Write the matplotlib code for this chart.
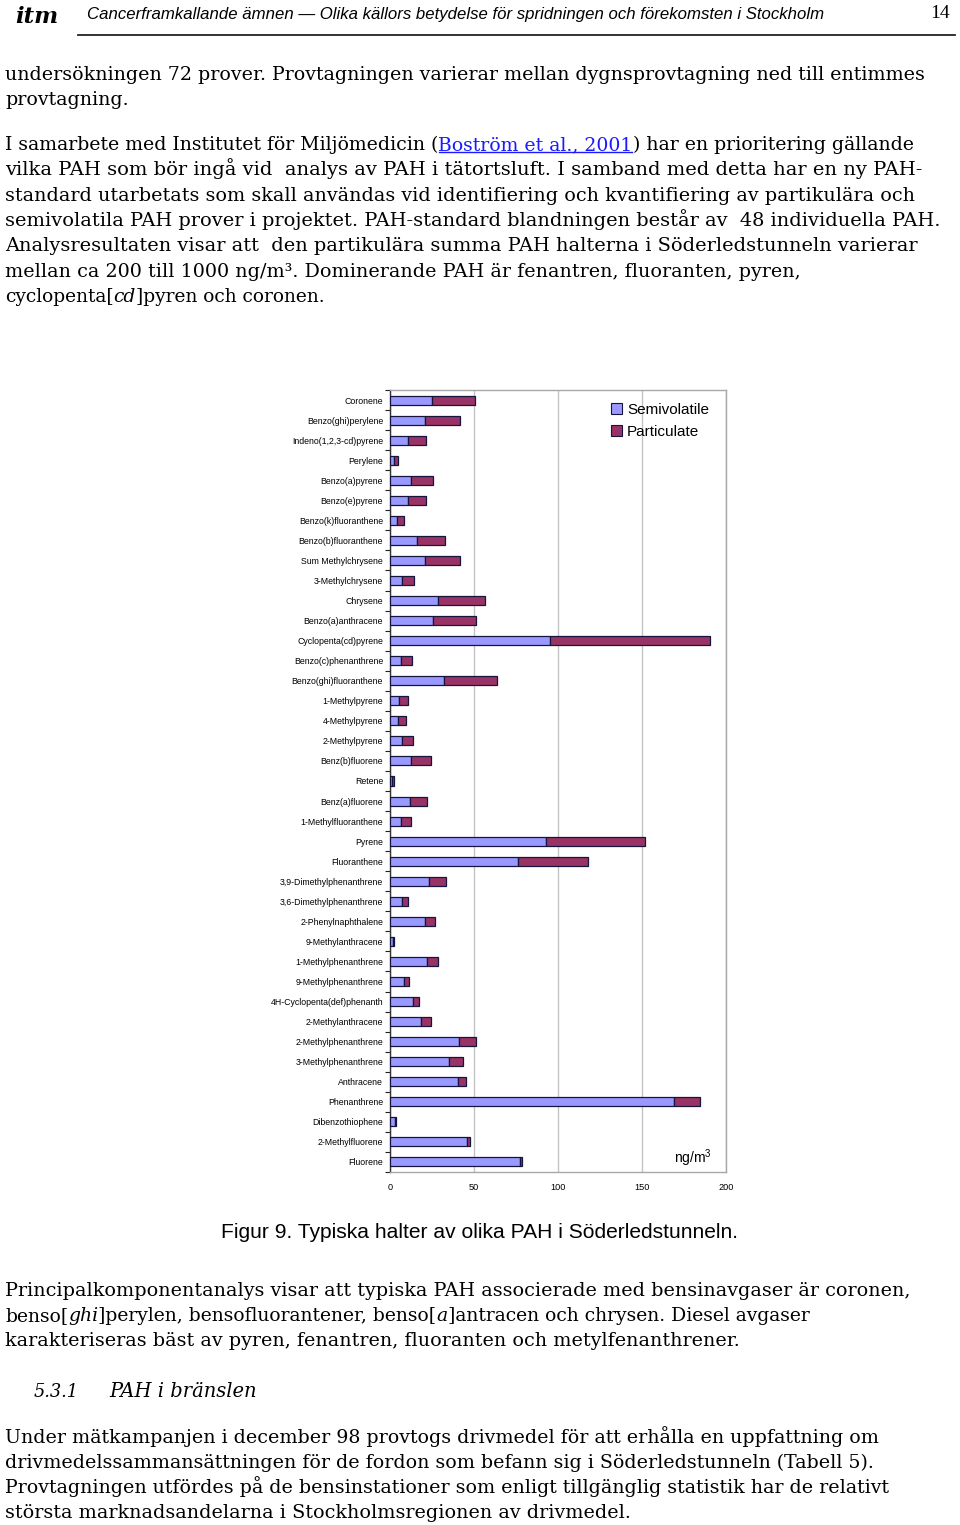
import matplotlib
matplotlib.use("Agg")
import matplotlib.pyplot as plt
from matplotlib.patches import Patch
from matplotlib.lines import Line2D
import numpy as np

# ---------------- data ----------------
categories = [
    "Coronene", "Benzo(ghi)perylene", "Indeno(1,2,3-cd)pyrene", "Perylene",
    "Benzo(a)pyrene", "Benzo(e)pyrene", "Benzo(k)fluoranthene",
    "Benzo(b)fluoranthene", "Sum Methylchrysene", "3-Methylchrysene",
    "Chrysene", "Benzo(a)anthracene", "Cyclopenta(cd)pyrene",
    "Benzo(c)phenanthrene", "Benzo(ghi)fluoranthene", "1-Methylpyrene",
    "4-Methylpyrene", "2-Methylpyrene", "Benz(b)fluorene", "Retene",
    "Benz(a)fluorene", "1-Methylfluoranthene", "Pyrene", "Fluoranthene",
    "3,9-Dimethylphenanthrene", "3,6-Dimethylphenanthrene",
    "2-Phenylnaphthalene", "9-Methylanthracene", "1-Methylphenanthrene",
    "9-Methylphenanthrene", "4H-Cyclopenta(def)phenanth",
    "2-Methylanthracene", "2-Methylphenanthrene", "3-Methylphenanthrene",
    "Anthracene", "Phenanthrene", "Dibenzothiophene", "2-Methylfluorene",
    "Fluorene",
]
semivolatile = [
    25.2, 20.8, 10.5, 2.2, 12.5, 10.5, 4.0, 16.3, 20.8, 7.0,
    28.4, 25.6, 95.4, 6.7, 32.0, 5.4, 4.8, 7.1, 12.7, 1.0,
    11.7, 6.5, 93.0, 76.4, 23.2, 7.3, 20.6, 2.0, 21.8, 8.5,
    13.9, 18.5, 40.9, 35.3, 40.5, 169.0, 2.8, 46.0, 77.2,
]
particulate = [
    25.2, 21.1, 10.7, 2.4, 12.9, 11.1, 4.5, 16.6, 21.1, 7.1,
    28.3, 25.6, 95.3, 6.6, 31.9, 5.1, 4.9, 6.4, 11.5, 1.2,
    10.5, 5.8, 58.8, 41.3, 9.9, 3.2, 6.0, 0.4, 6.6, 2.6,
    3.2, 5.7, 10.1, 8.2, 4.5, 15.7, 0.5, 1.6, 1.6,
]
series_names = ["Semivolatile", "Particulate"]
x_ticks = [0, 50, 100, 150, 200]
unit_label = "ng/m$^3$"
caption = "Figur 9. Typiska halter av olika PAH i Söderledstunneln."
header_title = ("Cancerframkallande ämnen \u2014 Olika källors betydelse för "
                "spridningen och förekomsten i Stockholm")
page_number = "14"

# ---------------- figure ----------------
plt.rcParams["mathtext.fontset"] = "custom"
plt.rcParams["mathtext.rm"] = "Liberation Sans"
plt.rcParams["mathtext.it"] = "Liberation Sans:italic"

W, H = 960, 1525
fig = plt.figure(figsize=(W / 100, H / 100), dpi=100)
fig.patch.set_facecolor("white")
renderer = fig.canvas.get_renderer()


def fx(x):
    return x / W


def fy(y):
    return 1 - y / H


def raw_w(txt, family, size, style, weight):
    t = fig.text(0, 0, txt, family=family, fontsize=size,
                 style=style, weight=weight)
    ww = t.get_window_extent(renderer).width
    t.remove()
    return ww


def seg_width(s, family, size, style, weight):
    return (raw_w("x" + s + "x", family, size, style, weight)
            - raw_w("xx", family, size, style, weight))


def line_widths(segs, family, size):
    return [seg_width(s, family, size, o.get("style", "normal"),
                      o.get("weight", "normal")) for s, o in segs]


def draw_line(segs, x0, base, target_w, family="DejaVu Serif", size0=12.0,
              color="black"):
    """segs: list of (text, opts) where opts may contain style/color/underline."""
    size = size0
    for _ in range(4):
        total = sum(line_widths(segs, family, size))
        size = size * target_w / total
    widths = line_widths(segs, family, size)
    x = x0
    for (s, o), wv in zip(segs, widths):
        fig.text(fx(x), fy(base), s, family=family, fontsize=size,
                 style=o.get("style", "normal"), weight=o.get("weight", "normal"),
                 color=o.get("color", color), va="baseline", ha="left")
        if o.get("underline"):
            fig.add_artist(Line2D([fx(x + 1), fx(x + wv - 1)],
                                  [fy(base + 2.2), fy(base + 2.2)],
                                  color=o.get("color", color), lw=1.0))
        x += wv


N = {}
IT = {"style": "italic"}
LINK = {"color": "#1a1aff", "underline": True}

# ---------------- header ----------------
draw_line([("itm", {"style": "italic", "weight": "bold"})], 15, 23, 43,
          family="DejaVu Serif")
draw_line([(header_title, IT)], 87, 19, 737, family="Liberation Sans")
fig.text(fx(930), fy(18), page_number, family="Liberation Serif",
         fontsize=14, va="baseline", ha="left")
fig.add_artist(Line2D([fx(78), fx(955)], [fy(35), fy(35)], color="#222222",
                      lw=1.3))

# ---------------- body text (top) ----------------
top_lines = [
    (80, 924, [("undersökningen 72 prover. Provtagningen varierar mellan "
                "dygnsprovtagning ned till entimmes", N)]),
    (105, 123, [("provtagning.", N)]),
    (150, 918, [("I samarbete med Institutet för Miljömedicin (", N),
                ("Boström et al., 2001", LINK),
                (") har en prioritering gällande", N)]),
    (175, 916, [("vilka PAH som bör ingå vid  analys av PAH i tätortsluft. "
                 "I samband med detta har en ny PAH-", N)]),
    (201, 910, [("standard utarbetats som skall användas vid identifiering "
                 "och kvantifiering av partikulära och", N)]),
    (226, 936, [("semivolatila PAH prover i projektet. PAH-standard "
                 "blandningen består av  48 individuella PAH.", N)]),
    (251, 913, [("Analysresultaten visar att  den partikulära summa PAH "
                 "halterna i Söderledstunneln varierar", N)]),
    (277, 794, [("mellan ca 200 till 1000 ng/m³. Dominerande PAH är "
                 "fenantren, fluoranten, pyren,", N)]),
    (302, 319, [("cyclopenta[", N), ("cd", IT), ("]pyren och coronen.", N)]),
]
for base, tw, segs in top_lines:
    draw_line(segs, 5, base, tw)

# ---------------- chart ----------------
ax = fig.add_axes([fx(390), fy(1172), (726 - 390) / W, (1172 - 390) / H])
ypos = np.arange(len(categories))
semi = np.array(semivolatile)
part = np.array(particulate)
edge = "#14143c"
ax.barh(ypos, semi, height=0.45, color="#9999FF", edgecolor=edge, lw=0.9,
        label=series_names[0], zorder=3)
ax.barh(ypos, part, left=semi, height=0.45, color="#993366", edgecolor=edge,
        lw=0.9, label=series_names[1], zorder=3)
ax.set_xlim(x_ticks[0], x_ticks[-1])
ax.set_ylim(len(categories) - 0.5, -0.5)
ax.set_xticks(x_ticks)
ax.set_xticklabels([str(v) for v in x_ticks], family="Liberation Sans",
                   fontsize=6.6)
ax.set_yticks(ypos)
ax.set_yticklabels(categories, family="Liberation Sans", fontsize=6.3)
ax.set_yticks(np.arange(len(categories) + 1) - 0.5, minor=True)
ax.tick_params(axis="y", which="major", length=0, pad=5)
ax.tick_params(axis="y", which="minor", length=3.5, width=0.8,
               direction="out", color="#222222")
ax.tick_params(axis="x", length=0, pad=8)
ax.grid(axis="x", color="#c4c4c4", lw=1.0, zorder=0)
ax.set_axisbelow(True)
for side in ["top", "right", "bottom"]:
    ax.spines[side].set_color("#a8a8a8")
    ax.spines[side].set_linewidth(1.0)
ax.spines["left"].set_color("#333333")
ax.spines["left"].set_linewidth(1.0)

handles = [Patch(facecolor="#9999FF", edgecolor=edge, lw=0.8),
           Patch(facecolor="#993366", edgecolor=edge, lw=0.8)]
leg = ax.legend(handles, series_names, loc="upper left",
                bbox_to_anchor=(fx(611), fy(403)),
                bbox_transform=fig.transFigure, frameon=False,
                prop={"family": "Liberation Sans", "size": 11},
                handlelength=0.75, handleheight=0.75, handletextpad=0.3,
                labelspacing=0.5, borderpad=0.0, borderaxespad=0.0)

fig.text(fx(674), fy(1158), unit_label, family="Liberation Sans",
         fontsize=10, va="center", ha="left")

draw_line([(caption, N)], 221, 1238, 518, family="Liberation Sans")

# ---------------- body text (bottom) ----------------
bottom_lines = [
    (1296, 904, [("Principalkomponentanalys visar att typiska PAH associerade "
                  "med bensinavgaser är coronen,", N)]),
    (1321, 814, [("benso[", N), ("ghi", IT),
                 ("]perylen, bensofluorantener, benso[", N), ("a", IT),
                 ("]antracen och chrysen. Diesel avgaser", N)]),
    (1346, 734, [("karakteriseras bäst av pyren, fenantren, fluoranten och "
                  "metylfenanthrener.", N)]),
    (1443, 872, [("Under mätkampanjen i december 98 provtogs drivmedel för att "
                  "erhålla en uppfattning om", N)]),
    (1468, 866, [("drivmedelssammansättningen för de fordon som befann sig i "
                  "Söderledstunneln (Tabell 5).", N)]),
    (1493, 889, [("Provtagningen utfördes på de bensinstationer som enligt "
                  "tillgänglig statistik har de relativt", N)]),
    (1518, 622, [("största marknadsandelarna i Stockholmsregionen av "
                  "drivmedel.", N)]),
]
for base, tw, segs in bottom_lines:
    draw_line(segs, 5, base, tw)

draw_line([("5.3.1", IT)], 34, 1397, 45)
draw_line([("PAH i bränslen", IT)], 109, 1397, 148)

fig.savefig("out.png", dpi=100)
